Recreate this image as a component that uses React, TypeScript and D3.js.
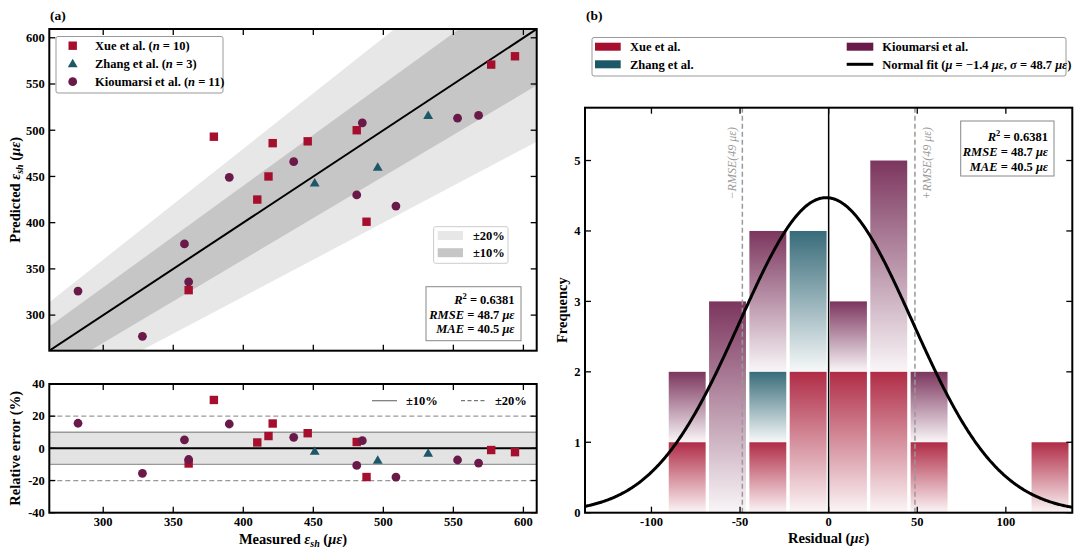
import React from 'react';
import * as d3 from 'd3';

// ---------- data ----------
const xueMeasured = [379, 421, 418, 410, 446, 481, 488, 361, 577, 594];
const xuePredicted = [493, 486, 450, 425, 488, 500, 401, 327, 571, 580];
const zhangMeasured = [451, 496, 532];
const zhangPredicted = [443, 460, 516];
const kioMeasured = [282, 328, 358, 361, 390, 436, 485, 481, 509, 553, 568];
const kioPredicted = [326, 277, 377, 336, 449, 466, 508, 430, 418, 513, 516];

const binEdges = [-91.2, -68.45, -45.7, -22.95, -0.2, 22.55, 45.3, 68.05, 90.8, 113.55, 136.3];
const xueCounts = [1, 0, 1, 2, 2, 2, 1, 0, 0, 1];
const zhangCounts = [0, 0, 1, 2, 0, 0, 0, 0, 0, 0];
const kioCounts = [1, 3, 2, 0, 1, 3, 1, 0, 0, 0];

const fitMu = -1.4;
const fitSigma = 48.7;
const nTotal = 24;
const rmse = 48.7;

const ticksA = [300, 350, 400, 450, 500, 550, 600];
const ticksRE = [-40, -20, 0, 20, 40];
const ticksBx = [-100, -50, 0, 50, 100];
const ticksBy = [0, 1, 2, 3, 4, 5];

const COL = { xue: '#a50f2d', zhang: '#1d5868', kio: '#6a1a48' };
const F = "'Liberation Serif', 'Times New Roman', serif";

export default function App() {
  // panel (a) scales
  const xA = d3.scaleLinear().domain([261.5, 609.5]).range([49.3, 536.7]);
  const yA = d3.scaleLinear().domain([261.5, 609.5]).range([350.7, 29]);
  const yR = d3.scaleLinear().domain([-40, 40]).range([512.7, 384]);
  // panel (b) scales
  const xB = d3.scaleLinear().domain([-137.5, 137.5]).range([585, 1072.3]);
  const yB = d3.scaleLinear().domain([0, 5.75]).range([512.7, 107.7]);

  const [ax0, ax1] = xA.range();
  const [ayB, ayT] = yA.range();
  const [ryB, ryT] = yR.range();
  const [bx0, bx1] = xB.range();
  const [byB, byT] = yB.range();

  const dom = xA.domain();
  const band = (p: number) =>
    d3.area<number>().x((d) => xA(d)).y0((d) => yA(d * (1 - p))).y1((d) => yA(d * (1 + p)))(dom) || '';

  const series = [
    { key: 'xue', m: xueMeasured, p: xuePredicted, c: COL.xue, shape: 'square' },
    { key: 'zhang', m: zhangMeasured, p: zhangPredicted, c: COL.zhang, shape: 'triangle' },
    { key: 'kio', m: kioMeasured, p: kioPredicted, c: COL.kio, shape: 'circle' },
  ];

  const tri = d3.symbol(d3.symbolTriangle, 42)() || '';
  const marker = (shape: string, cx: number, cy: number, c: string, k: string) => {
    if (shape === 'square') return <rect key={k} x={cx - 4.2} y={cy - 4.2} width={8.4} height={8.4} fill={c} />;
    if (shape === 'triangle') return <path key={k} d={tri} transform={`translate(${cx},${cy + 0.8})`} fill={c} />;
    return <circle key={k} cx={cx} cy={cy} r={4.4} fill={c} />;
  };

  const tickStyle = { stroke: '#000', strokeWidth: 1.3 };
  const tl = 6;
  const lblStyle: any = { fontFamily: F, fontWeight: 'bold', fontSize: 12.5, fill: '#000' };
  const rmseStyle: any = { fontFamily: F, fontStyle: 'italic', fontSize: 12, fill: '#999' };

  // histogram stacks
  const rows = binEdges.slice(0, -1).map((e, i) => ({
    i, x0: e, x1: binEdges[i + 1], xue: xueCounts[i], zhang: zhangCounts[i], kio: kioCounts[i],
  }));
  const stack = d3.stack<any>().keys(['xue', 'zhang', 'kio'])(rows);
  const gap = 3.4;

  const binW = binEdges[1] - binEdges[0];
  const xs = d3.range(-137.5, 137.6, 0.5);
  const pdf = (x: number) => Math.exp(-0.5 * ((x - fitMu) / fitSigma) ** 2) / (fitSigma * Math.sqrt(2 * Math.PI));
  const curve = d3.line<number>().x((d) => xB(d)).y((d) => yB(nTotal * binW * pdf(d)))(xs) || '';

  return (
    <svg width={1080} height={555} style={{ position: 'absolute', left: 0, top: 0, background: '#fff' }}>
      <defs>
        <clipPath id="clipA"><rect x={ax0} y={ayT} width={ax1 - ax0} height={ayB - ayT} /></clipPath>
        <clipPath id="clipB"><rect x={bx0} y={byT} width={bx1 - bx0} height={byB - byT} /></clipPath>
        {series.map((s) => (
          <linearGradient key={s.key} id={`g-${s.key}`} x1="0" y1="0" x2="0" y2="1">
            <stop offset="0%" stopColor={s.c} stopOpacity={0.88} />
            <stop offset="100%" stopColor={s.c} stopOpacity={0.04} />
          </linearGradient>
        ))}
      </defs>
      <rect x={0} y={0} width={1080} height={555} fill="#fff" />

      {/* ================= panel (a) top ================= */}
      <text x={50} y={19.5} style={{ ...lblStyle, fontSize: 13.5 }}>(a)</text>
      <g clipPath="url(#clipA)">
        <path d={band(0.2)} fill="#e7e7e7" />
        <path d={band(0.1)} fill="#c6c6c6" />
        <line x1={xA(dom[0])} y1={yA(dom[0])} x2={xA(dom[1])} y2={yA(dom[1])} stroke="#000" strokeWidth={2} />
        {series.map((s) => s.m.map((m, i) => marker(s.shape, xA(m), yA(s.p[i]), s.c, `${s.key}${i}`)))}
      </g>
      {ticksA.map((t) => (
        <g key={`ta${t}`}>
          <line x1={xA(t)} x2={xA(t)} y1={ayB} y2={ayB - tl} style={tickStyle} />
          <line x1={xA(t)} x2={xA(t)} y1={ayT} y2={ayT + tl} style={tickStyle} />
          <line x1={ax0} x2={ax0 + tl} y1={yA(t)} y2={yA(t)} style={tickStyle} />
          <line x1={ax1} x2={ax1 - tl} y1={yA(t)} y2={yA(t)} style={tickStyle} />
          <text x={ax0 - 4.5} y={yA(t) + 4.3} textAnchor="end" style={lblStyle}>{t}</text>
        </g>
      ))}
      <rect x={ax0} y={ayT} width={ax1 - ax0} height={ayB - ayT} fill="none" stroke="#000" strokeWidth={2} />
      <text transform={`translate(19.5,${(ayT + ayB) / 2}) rotate(-90)`} textAnchor="middle" style={{ ...lblStyle, fontSize: 14.5 }}>
        Predicted <tspan fontStyle="italic">ε</tspan><tspan fontStyle="italic" fontSize={10} dy={3}>sh</tspan><tspan dy={-3}> (</tspan><tspan fontStyle="italic">με</tspan>)
      </text>

      {/* legend (a) */}
      <rect x={56} y={36.5} width={167} height={56.5} rx={2} fill="#fff" stroke="#999" strokeWidth={1} />
      {[
        { s: 'square', c: COL.xue, name: 'Xue et al. (', n: '10' },
        { s: 'triangle', c: COL.zhang, name: 'Zhang et al. (', n: '3' },
        { s: 'circle', c: COL.kio, name: 'Kioumarsi et al. (', n: '11' },
      ].map((d, i) => (
        <g key={`la${i}`}>
          {marker(d.s, 72.7, 45.7 + i * 18, d.c, `lm${i}`)}
          <text x={95} y={45.7 + i * 18 + 4.3} style={lblStyle}>
            {d.name}<tspan fontStyle="italic">n</tspan>{' = ' + d.n + ')'}
          </text>
        </g>
      ))}

      {/* band legend */}
      <rect x={433.6} y={226.7} width={74.4} height={36.6} rx={2} fill="#fff" stroke="#ccc" strokeWidth={1} />
      <rect x={437.7} y={231} width={25.3} height={9} fill="#e7e7e7" />
      <rect x={437.7} y={248.2} width={25.3} height={9} fill="#c6c6c6" />
      <text x={473} y={239.6} style={lblStyle}>±20%</text>
      <text x={473} y={257} style={lblStyle}>±10%</text>

      {/* stats (a) */}
      <rect x={426} y={286.7} width={95} height={54} fill="#fff" stroke="#888" strokeWidth={1} />
      <text x={514.5} y={304.3} textAnchor="end" style={lblStyle}>
        <tspan fontStyle="italic">R</tspan><tspan fontSize={8.5} dy={-5}>2</tspan><tspan dy={5}> = 0.6381</tspan>
      </text>
      <text x={514.5} y={318.5} textAnchor="end" style={lblStyle}>
        <tspan fontStyle="italic">RMSE</tspan> = 48.7 <tspan fontStyle="italic">με</tspan>
      </text>
      <text x={514.5} y={332.7} textAnchor="end" style={lblStyle}>
        <tspan fontStyle="italic">MAE</tspan> = 40.5 <tspan fontStyle="italic">με</tspan>
      </text>

      {/* ================= panel (a) bottom ================= */}
      <rect x={ax0} y={yR(10)} width={ax1 - ax0} height={yR(-10) - yR(10)} fill="#e3e3e3" />
      {[10, -10].map((v) => (
        <line key={`s${v}`} x1={ax0} x2={ax1} y1={yR(v)} y2={yR(v)} stroke="#999" strokeWidth={1.3} />
      ))}
      {[20, -20].map((v) => (
        <line key={`d${v}`} x1={ax0} x2={ax1} y1={yR(v)} y2={yR(v)} stroke="#999" strokeWidth={1.2} strokeDasharray="5,3" />
      ))}
      <line x1={ax0} x2={ax1} y1={yR(0)} y2={yR(0)} stroke="#000" strokeWidth={2} />
      {series.map((s) =>
        s.m.map((m, i) => marker(s.shape, xA(m), yR(((s.p[i] - m) / m) * 100), s.c, `r${s.key}${i}`))
      )}
      {ticksA.map((t) => (
        <g key={`tr${t}`}>
          <line x1={xA(t)} x2={xA(t)} y1={ryB} y2={ryB - tl} style={tickStyle} />
          <line x1={xA(t)} x2={xA(t)} y1={ryT} y2={ryT + tl} style={tickStyle} />
          <text x={xA(t)} y={526} textAnchor="middle" style={lblStyle}>{t}</text>
        </g>
      ))}
      {ticksRE.map((t) => (
        <g key={`tre${t}`}>
          <line x1={ax0} x2={ax0 + tl} y1={yR(t)} y2={yR(t)} style={tickStyle} />
          <line x1={ax1} x2={ax1 - tl} y1={yR(t)} y2={yR(t)} style={tickStyle} />
          <text x={ax0 - 4.5} y={yR(t) + 4.3} textAnchor="end" style={lblStyle}>{t}</text>
        </g>
      ))}
      <rect x={ax0} y={ryT} width={ax1 - ax0} height={ryB - ryT} fill="none" stroke="#000" strokeWidth={2} />
      <text transform={`translate(19.5,${(ryT + ryB) / 2}) rotate(-90)`} textAnchor="middle" style={{ ...lblStyle, fontSize: 14.5 }}>
        Relative error (%)
      </text>
      <text x={(ax0 + ax1) / 2} y={544} textAnchor="middle" style={{ ...lblStyle, fontSize: 14.5 }}>
        Measured <tspan fontStyle="italic">ε</tspan><tspan fontStyle="italic" fontSize={10} dy={3}>sh</tspan><tspan dy={-3}> (</tspan><tspan fontStyle="italic">με</tspan>)
      </text>
      {/* bottom legend */}
      <line x1={372} x2={397} y1={400.7} y2={400.7} stroke="#777" strokeWidth={1.2} />
      <text x={406} y={405} style={lblStyle}>±10%</text>
      <line x1={461} x2={486} y1={400.7} y2={400.7} stroke="#777" strokeWidth={1.2} strokeDasharray="4,2.5" />
      <text x={495} y={405} style={lblStyle}>±20%</text>

      {/* ================= panel (b) ================= */}
      <text x={586} y={19.5} style={{ ...lblStyle, fontSize: 13.5 }}>(b)</text>
      <g clipPath="url(#clipB)">
        {stack.map((layer) =>
          layer.map((seg: any, i: number) => {
            const h = seg[1] - seg[0];
            if (h <= 0) return null;
            const r = rows[i];
            const x0 = xB(r.x0) + gap / 2;
            const w = xB(r.x1) - xB(r.x0) - gap;
            return (
              <rect key={`${layer.key}${i}`} x={x0} y={yB(seg[1])} width={w} height={yB(seg[0]) - yB(seg[1])}
                fill={`url(#g-${layer.key})`} />
            );
          })
        )}
        <line x1={xB(0)} x2={xB(0)} y1={byB} y2={byT} stroke="#000" strokeWidth={1.5} />
        {[-rmse, rmse].map((v) => (
          <line key={`rm${v}`} x1={xB(v)} x2={xB(v)} y1={byB} y2={byT} stroke="#999" strokeWidth={1.5} strokeDasharray="5,3" />
        ))}
        <path d={curve} fill="none" stroke="#000" strokeWidth={3} />
      </g>
      <text transform={`translate(${xB(-rmse) - 6},127) rotate(-90)`} textAnchor="end" style={rmseStyle}>
        −RMSE(49 με)
      </text>
      <text transform={`translate(${xB(rmse) + 16},127) rotate(-90)`} textAnchor="end" style={rmseStyle}>
        +RMSE(49 με)
      </text>
      {ticksBx.map((t) => (
        <g key={`tbx${t}`}>
          <line x1={xB(t)} x2={xB(t)} y1={byB} y2={byB - tl} style={tickStyle} />
          <line x1={xB(t)} x2={xB(t)} y1={byT} y2={byT + tl} style={tickStyle} />
          <text x={xB(t)} y={526} textAnchor="middle" style={lblStyle}>{t}</text>
        </g>
      ))}
      {ticksBy.map((t) => (
        <g key={`tby${t}`}>
          <line x1={bx0} x2={bx0 + tl} y1={yB(t)} y2={yB(t)} style={tickStyle} />
          <line x1={bx1} x2={bx1 - tl} y1={yB(t)} y2={yB(t)} style={tickStyle} />
          <text x={bx0 - 4.5} y={yB(t) + 4.3} textAnchor="end" style={lblStyle}>{t}</text>
        </g>
      ))}
      <rect x={bx0} y={byT} width={bx1 - bx0} height={byB - byT} fill="none" stroke="#000" strokeWidth={2} />
      <text transform={`translate(567,${(byT + byB) / 2}) rotate(-90)`} textAnchor="middle" style={{ ...lblStyle, fontSize: 14.5 }}>
        Frequency
      </text>
      <text x={(bx0 + bx1) / 2} y={543} textAnchor="middle" style={{ ...lblStyle, fontSize: 14.5 }}>
        Residual (<tspan fontStyle="italic">με</tspan>)
      </text>

      {/* stats (b) */}
      <rect x={960.7} y={121} width={93.3} height={55} fill="#fff" stroke="#888" strokeWidth={1} />
      <text x={1048} y={141} textAnchor="end" style={lblStyle}>
        <tspan fontStyle="italic">R</tspan><tspan fontSize={8.5} dy={-5}>2</tspan><tspan dy={5}> = 0.6381</tspan>
      </text>
      <text x={1048} y={156} textAnchor="end" style={lblStyle}>
        <tspan fontStyle="italic">RMSE</tspan> = 48.7 <tspan fontStyle="italic">με</tspan>
      </text>
      <text x={1048} y={171} textAnchor="end" style={lblStyle}>
        <tspan fontStyle="italic">MAE</tspan> = 40.5 <tspan fontStyle="italic">με</tspan>
      </text>

      {/* legend (b) */}
      <rect x={592} y={37.5} width={474} height={38.5} rx={2} fill="#fff" stroke="#999" strokeWidth={1} />
      <rect x={595} y={42.7} width={25.7} height={8} fill={COL.xue} />
      <rect x={595} y={60.3} width={25.7} height={8} fill={COL.zhang} />
      <rect x={846.7} y={42.7} width={26.6} height={8} fill={COL.kio} />
      <line x1={846.7} x2={873.3} y1={64.3} y2={64.3} stroke="#000" strokeWidth={3} />
      <text x={630} y={51} style={lblStyle}>Xue et al.</text>
      <text x={630} y={68.6} style={lblStyle}>Zhang et al.</text>
      <text x={882.3} y={51} style={lblStyle}>Kioumarsi et al.</text>
      <text x={882.3} y={68.6} style={lblStyle}>
        Normal fit (<tspan fontStyle="italic">μ</tspan> = −1.4 <tspan fontStyle="italic">με</tspan>, <tspan fontStyle="italic">σ</tspan> = 48.7 <tspan fontStyle="italic">με</tspan>)
      </text>
    </svg>
  );
}
